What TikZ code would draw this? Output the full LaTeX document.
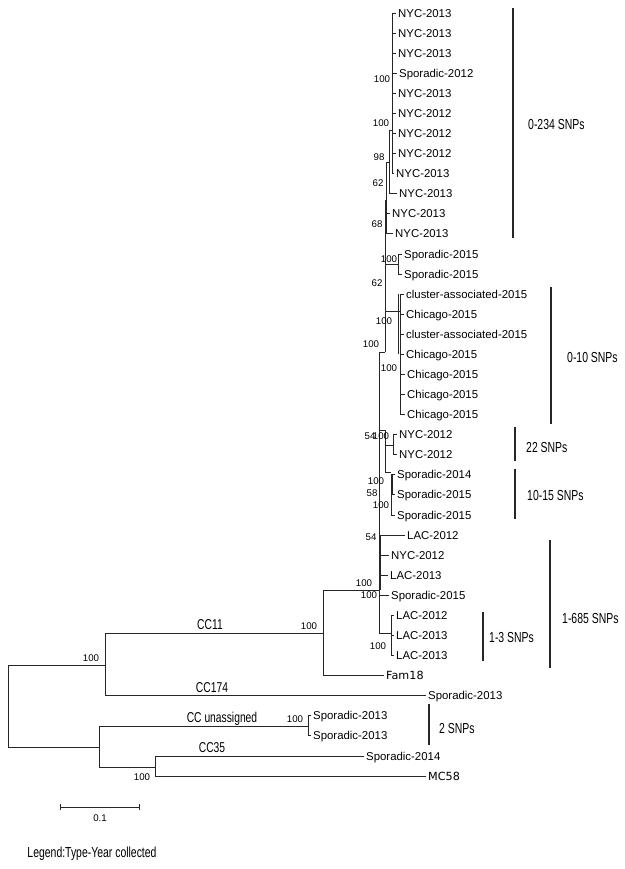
\documentclass[tikz,border=0pt]{standalone}
\usepackage{fontspec}
\setmainfont{Liberation Sans}
\newfontfamily\condfont[FakeStretch=0.72]{Liberation Sans}
\newfontfamily\dvfont{DejaVu Sans}
\begin{document}
\begin{tikzpicture}[x=1pt,y=-1pt,
  branch/.style={line width=0.9pt, draw=black!85},
  bar/.style={line width=1.8pt, draw=black!85},
  leaf/.style={anchor=west, inner xsep=2pt, inner ysep=0pt, text height=8.1pt, text depth=0pt, font=\fontsize{11.4}{13}\selectfont},
  refleaf/.style={leaf, font=\dvfont\fontsize{11.2}{13}\selectfont},
  bs/.style={inner sep=0pt, text height=7pt, text depth=0pt, font=\fontsize{9.7}{11}\selectfont},
  snp/.style={anchor=west, inner sep=0pt, text height=10.3pt, text depth=0pt, font=\condfont\fontsize{14.5}{17}\selectfont},
  cclab/.style={inner sep=0pt, text height=10.3pt, text depth=0pt, font=\condfont\fontsize{14.3}{17}\selectfont}]
\useasboundingbox (0,0) rectangle (624,869);

% ---- leaves ----
\node[leaf] (l0)  at (396,13.0)  {NYC-2013};
\node[leaf] (l1)  at (396,33.1)  {NYC-2013};
\node[leaf] (l2)  at (396,53.2)  {NYC-2013};
\node[leaf] (l3)  at (397,73.2)  {Sporadic-2012};
\node[leaf] (l4)  at (396,93.3)  {NYC-2013};
\node[leaf] (l5)  at (396,113.4) {NYC-2012};
\node[leaf] (l6)  at (396,133.5) {NYC-2012};
\node[leaf] (l7)  at (396,153.6) {NYC-2012};
\node[leaf] (l8)  at (394,173.6) {NYC-2013};
\node[leaf] (l9)  at (397,193.7) {NYC-2013};
\node[leaf] (l10) at (390,213.8) {NYC-2013};
\node[leaf] (l11) at (393,233.9) {NYC-2013};
\node[leaf] (l12) at (402,254.0) {Sporadic-2015};
\node[leaf] (l13) at (402,274.0) {Sporadic-2015};
\node[leaf] (l14) at (404,294.1) {cluster-associated-2015};
\node[leaf] (l15) at (404,314.2) {Chicago-2015};
\node[leaf] (l16) at (404,334.3) {cluster-associated-2015};
\node[leaf] (l17) at (404,354.4) {Chicago-2015};
\node[leaf] (l18) at (405,374.4) {Chicago-2015};
\node[leaf] (l19) at (405,394.5) {Chicago-2015};
\node[leaf] (l20) at (405,414.6) {Chicago-2015};
\node[leaf] (l21) at (397,434.7) {NYC-2012};
\node[leaf] (l22) at (397,454.8) {NYC-2012};
\node[leaf] (l23) at (395,474.8) {Sporadic-2014};
\node[leaf] (l24) at (395,494.9) {Sporadic-2015};
\node[leaf] (l25) at (395,515.0) {Sporadic-2015};
\node[leaf] (l26) at (405,535.1) {LAC-2012};
\node[leaf] (l27) at (389,555.2) {NYC-2012};
\node[leaf] (l28) at (388,575.2) {LAC-2013};
\node[leaf] (l29) at (389,595.3) {Sporadic-2015};
\node[leaf] (l30) at (394,615.4) {LAC-2012};
\node[leaf] (l31) at (394,635.5) {LAC-2013};
\node[leaf] (l32) at (394,655.6) {LAC-2013};
\node[refleaf] (l33) at (384,675.6) {Fam18};
\node[leaf] (l34) at (426,695.7) {Sporadic-2013};
\node[leaf] (l35) at (311,715.8) {Sporadic-2013};
\node[leaf] (l36) at (311,735.9) {Sporadic-2013};
\node[leaf] (l37) at (364,756.0) {Sporadic-2014};
\node[refleaf] (l38) at (426,776.0) {MC58};

% ---- internal nodes ----
\coordinate (a1) at (392,130);
\coordinate (a2) at (389,162);
\coordinate (a3) at (386,200);
\coordinate (t1) at (385,352);
\coordinate (s1) at (398,264);
\coordinate (c1) at (400,311);
\coordinate (m1) at (379,590);
\coordinate (m2) at (379,633);
\coordinate (b1) at (385,430);
\coordinate (n1) at (393,445);
\coordinate (sp) at (391,472);
\coordinate (lac) at (391,633);
\coordinate (cc11) at (323,633);
\coordinate (n174) at (105,665);
\coordinate (root) at (8,706);
\coordinate (nb) at (99,747);
\coordinate (un) at (308,726);
\coordinate (cc35) at (155,767);

% ---- branches ----
\begin{scope}[branch]
% NYC clade
\draw (a1 |- l0.west) -- (a1 |- l8.west);
\foreach \i in {0,...,8} \draw (a1 |- l\i.west) -- (l\i.west);
\draw (a2 |- a1) -- (a1);
\draw (a2 |- a1) -- (a2 |- l9.west) -- (l9.west);
\draw (a3 |- a2) -- (a2);
\draw (a3 |- a2) -- (a3 |- l11.west);
\draw (a3 |- l10.west) -- (l10.west);
\draw (a3 |- l11.west) -- (l11.west);
% trunk
\draw (t1 |- a3) -- (a3);
\draw (t1 |- a3) -- (t1);
% sporadic-2015 pair
\draw (t1 |- s1) -- (s1);
\draw (s1 |- l12.west) -- (s1 |- l13.west);
\draw (s1 |- l12.west) -- (l12.west);
\draw (s1 |- l13.west) -- (l13.west);
% Chicago clade
\draw (t1 |- c1) -- (c1);
\draw (c1 |- l14.west) -- (c1 |- l20.west);
\foreach \i in {14,...,20} \draw (c1 |- l\i.west) -- (l\i.west);
\draw ([xshift=-2pt]c1 |- l14.west) -- ([xshift=-2pt]c1 |- l17.west);
% main stem
\draw (m1 |- t1) -- (t1);
\draw (m1 |- t1) -- (m2);
\draw ([xshift=1pt]m1 |- l26.west) -- ([xshift=1pt]m1);
% NYC-2012 pair and sporadic trio
\draw (m1 |- b1) -- (b1);
\draw (b1) -- (b1 |- sp) -- (sp);
\draw (b1 |- n1) -- (n1);
\draw (n1 |- l21.west) -- (n1 |- l22.west);
\draw (n1 |- l21.west) -- (l21.west);
\draw (n1 |- l22.west) -- (l22.west);
\draw (sp |- l23.west) -- (sp |- l25.west);
\foreach \i in {23,24,25} \draw (sp |- l\i.west) -- (l\i.west);
\draw ([xshift=1pt]sp |- l23.west) -- ([xshift=1pt]sp |- l24.west);
% near-zero branches
\foreach \i in {26,27,28,29} \draw (m1 |- l\i.west) -- (l\i.west);
% LAC trio
\draw (m2) -- (lac);
\draw (lac |- l30.west) -- (lac |- l32.west);
\foreach \i in {30,31,32} \draw (lac |- l\i.west) -- (l\i.west);
% CC11
\draw (cc11 |- m1) -- (m1);
\draw (cc11 |- m1) -- (cc11 |- l33.west) -- (l33.west);
\draw (n174 |- cc11) -- (cc11);
% CC174
\draw (n174 |- cc11) -- (n174 |- l34.west) -- (l34.west);
% root
\draw (root |- n174) -- (n174);
\draw (root |- n174) -- (root |- nb) -- (nb);
% lower clade
\draw (nb |- un) -- (nb |- cc35);
\draw (nb |- un) -- (un);
\draw (un |- l35.west) -- (un |- l36.west);
\draw (un |- l35.west) -- (l35.west);
\draw (un |- l36.west) -- (l36.west);
\draw (nb |- cc35) -- (cc35);
\draw (cc35 |- l37.west) -- (cc35 |- l38.west);
\draw (cc35 |- l37.west) -- (l37.west);
\draw (cc35 |- l38.west) -- (l38.west);
\end{scope}

% ---- bootstrap values ----
\node[bs] (b01) at (382,79)  {100};
\node[bs] (b02) at (381,123) {100};
\node[bs] (b03) at (379,157) {98};
\node[bs] (b04) at (378,183) {62};
\node[bs] (b05) at (377,224) {68};
\node[bs] (b06) at (389,259) {100};
\node[bs] (b07) at (377,283) {62};
\node[bs] (b08) at (384,321) {100};
\node[bs] (b09) at (371,344) {100};
\node[bs] (b10) at (389,368) {100};
\node[bs] (b11) at (370,436) {54};
\node[bs] (b12) at (381,436) {100};
\node[bs] (b13) at (376,481) {100};
\node[bs] (b14) at (372,493) {58};
\node[bs] (b15) at (381,505) {100};
\node[bs] (b16) at (371,537) {54};
\node[bs] (b17) at (364,583) {100};
\node[bs] (b18) at (369,595) {100};
\node[bs] (b19) at (378,646) {100};
\node[bs] (b20) at (309,626) {100};
\node[bs] (b21) at (91,658)  {100};
\node[bs] (b22) at (295,719) {100};
\node[bs] (b23) at (142,777) {100};

% ---- clonal complex labels ----
\node[cclab] (k11)  at (210,624) {CC11};
\node[cclab] (k174) at (212,687) {CC174};
\node[cclab] (kun)  at (222,717) {CC unassigned};
\node[cclab] (k35)  at (212,747) {CC35};

% ---- SNP bars ----
\coordinate (r1a) at (513,8);   \coordinate (r1b) at (513,238);
\coordinate (r2a) at (551,287); \coordinate (r2b) at (551,424);
\coordinate (r3a) at (515,427); \coordinate (r3b) at (515,461);
\coordinate (r4a) at (515,469); \coordinate (r4b) at (515,519);
\coordinate (r5a) at (550,540); \coordinate (r5b) at (550,668);
\coordinate (r6a) at (483,612); \coordinate (r6b) at (483,661);
\coordinate (r7a) at (429,704); \coordinate (r7b) at (429,745);
\draw[bar] (r1a) -- (r1b);
\draw[bar] (r2a) -- (r2b);
\draw[bar] (r3a) -- (r3b);
\draw[bar] (r4a) -- (r4b);
\draw[bar] (r5a) -- (r5b);
\draw[bar] (r6a) -- (r6b);
\draw[bar] (r7a) -- (r7b);
\node[snp] (q1) at (528,124) {0-234 SNPs};
\node[snp] (q2) at (567,357) {0-10 SNPs};
\node[snp] (q3) at (526,447) {22 SNPs};
\node[snp] (q4) at (527,495) {10-15 SNPs};
\node[snp] (q5) at (562,618) {1-685 SNPs};
\node[snp] (q6) at (489,637) {1-3 SNPs};
\node[snp] (q7) at (439,728) {2 SNPs};

% ---- scale bar ----
\coordinate (sa) at (60,807);
\coordinate (sb) at (139,807);
\draw[branch] (sa) -- (sb);
\draw[branch] ([yshift=-3pt]sa) -- ([yshift=3pt]sa);
\draw[branch] ([yshift=-3pt]sb) -- ([yshift=3pt]sb);
\node[bs] (scl) at (100,818) {0.1};

% ---- legend ----
\node[cclab, font=\condfont\fontsize{14.5}{17}\selectfont] (leg) at (92,852) {Legend:Type-Year collected};
\end{tikzpicture}
\end{document}
